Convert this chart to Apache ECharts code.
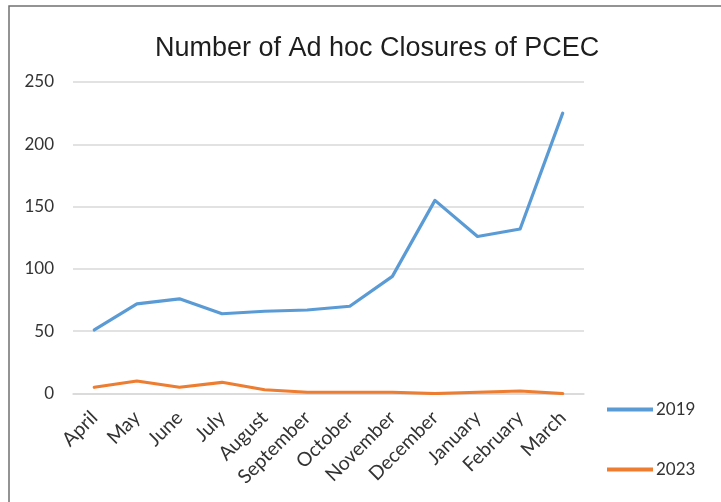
<!DOCTYPE html>
<html>
<head>
<meta charset="utf-8">
<title>Number of Ad hoc Closures of PCEC</title>
<script src="https://cdn.jsdelivr.net/npm/echarts@6/dist/echarts.min.js"></script>
<style>
  html, body { margin: 0; padding: 0; background: #fff; }
  #chart { width: 721px; height: 502px; }
</style>
</head>
<body>
<div id="chart"></div>
<script>
// Monthly ad hoc closures, April to March
const months = ['April', 'May', 'June', 'July', 'August', 'September', 'October',
  'November', 'December', 'January', 'February', 'March'];
const closures2019 = [51, 72, 76, 64, 66, 67, 70, 94, 155, 126, 132, 225];
const closures2023 = [5, 10, 5, 9, 3, 1, 1, 1, 0, 1, 2, 0];
const seriesNames = ['2019', '2023'];
const yTicks = { min: 0, max: 250, interval: 50 };

const labelFont = 'Lato, "Liberation Sans", sans-serif';

const chart = echarts.init(document.getElementById('chart'), null, { renderer: 'canvas' });

chart.setOption({
  animation: false,
  backgroundColor: '#ffffff',
  title: {
    text: 'Number of Ad hoc Closures of PCEC',
    left: 155,
    top: 35,
    padding: 0,
    textStyle: {
      fontFamily: '"Liberation Sans", Arial, sans-serif',
      fontSize: 27,
      fontWeight: 'normal',
      color: '#1e1e1e'
    }
  },
  legend: {
    orient: 'vertical',
    left: 607,
    top: 401,
    padding: 0,
    icon: 'rect',
    itemWidth: 46,
    itemHeight: 4,
    itemGap: 43,
    textStyle: { fontFamily: labelFont, fontSize: 17, color: '#333333', padding: [0, 0, 0, -2] },
    data: seriesNames
  },
  grid: {
    left: 73,
    right: 137,
    top: 82,
    bottom: 108.5,
    containLabel: false,
    outerBoundsMode: 'none'
  },
  xAxis: {
    type: 'category',
    data: months,
    boundaryGap: true,
    axisLine: { show: true, lineStyle: { color: '#d9d9d9', width: 1.5 } },
    axisTick: { show: false },
    axisLabel: {
      rotate: 45,
      margin: 21,
      interval: 0,
      fontFamily: labelFont,
      fontSize: 19.5,
      color: '#333333'
    }
  },
  yAxis: {
    type: 'value',
    min: yTicks.min,
    max: yTicks.max,
    interval: yTicks.interval,
    axisLine: { show: false },
    axisTick: { show: false },
    splitLine: { lineStyle: { color: '#d9d9d9', width: 1.5 } },
    axisLabel: {
      margin: 19,
      fontFamily: labelFont,
      fontSize: 17,
      color: '#333333'
    }
  },
  series: [
    {
      name: seriesNames[0],
      type: 'line',
      data: closures2019,
      symbol: 'none',
      color: '#5b9bd5',
      lineStyle: { width: 3.2, color: '#5b9bd5', cap: 'round', join: 'round' }
    },
    {
      name: seriesNames[1],
      type: 'line',
      data: closures2023,
      symbol: 'none',
      color: '#ed7d31',
      lineStyle: { width: 3.2, color: '#ed7d31', cap: 'round', join: 'round' }
    }
  ],
  graphic: [
    {
      type: 'rect',
      silent: true,
      z: 100,
      shape: { x: 9, y: 6, width: 900, height: 700 },
      style: { fill: 'none', stroke: '#707070', lineWidth: 1.5 }
    }
  ]
});
</script>
</body>
</html>
